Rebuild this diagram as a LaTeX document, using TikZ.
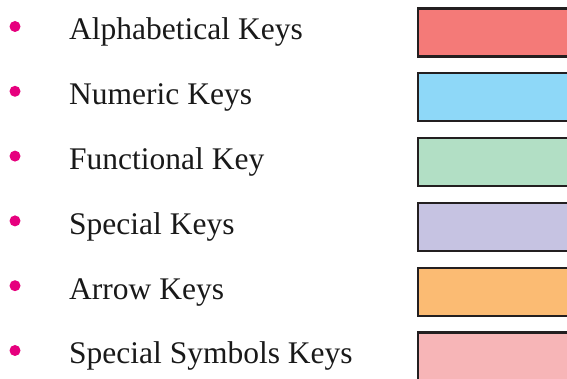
\documentclass[tikz,border=0pt]{standalone}
\usepackage{fontspec}
\setmainfont{Liberation Serif}
\definecolor{bulletc}{HTML}{E6007E}
\definecolor{c1}{HTML}{F47A78}
\definecolor{c2}{HTML}{8ED8F8}
\definecolor{c3}{HTML}{B2DFC5}
\definecolor{c4}{HTML}{C6C3E2}
\definecolor{c5}{HTML}{FBBB73}
\definecolor{c6}{HTML}{F7B5B7}
\definecolor{edge}{HTML}{231F20}
\tikzset{
  dot/.style={circle, fill=bulletc, inner sep=0pt, minimum size=11pt},
  label/.style={anchor=base west, inner sep=0pt, font=\fontsize{31.5}{38}\selectfont, text=black!90},
  keybox/.style={draw=edge, line width=2.2pt, anchor=north west, minimum width=175pt, minimum height=48pt, inner sep=0pt}
}
\begin{document}
\begin{tikzpicture}[x=1pt,y=1pt]
\useasboundingbox (0,0) rectangle (567,379);
\foreach \i/\t/\c in {0/Alphabetical Keys/c1, 1/Numeric Keys/c2, 2/Functional Key/c3, 3/Special Keys/c4, 4/Arrow Keys/c5, 5/Special Symbols Keys/c6}{
  \node[dot] (b\i) at (15, 379-26.5-64.8*\i) {};
  \node[label] (t\i) at (69, 379-40-64.8*\i) {\t};
  \node[keybox, fill=\c] (k\i) at (417, 379-7.5-64.8*\i) {};
}
\end{tikzpicture}
\end{document}
